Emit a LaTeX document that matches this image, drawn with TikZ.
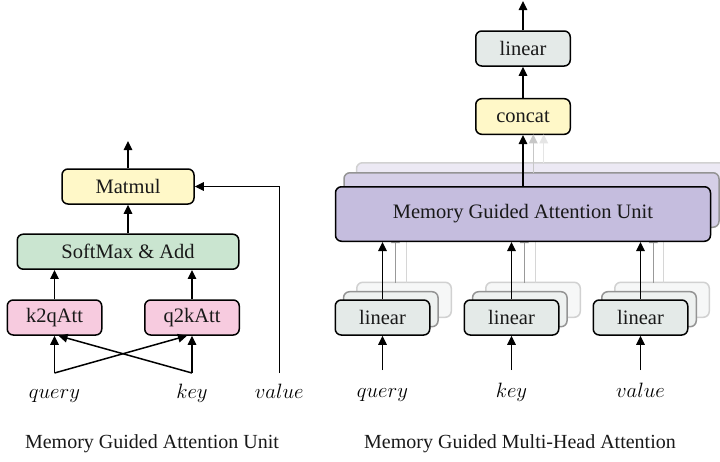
\documentclass[tikz,border=0pt]{standalone}
\usepackage{fontspec}
\setmainfont{Liberation Serif}
\usetikzlibrary{arrows.meta}
\definecolor{cyel}{HTML}{FFF8C8}
\definecolor{cgrn}{HTML}{CAE5D0}
\definecolor{cpink}{HTML}{F7CBDF}
\definecolor{clin}{HTML}{E4EAE8}
\definecolor{clin1}{HTML}{EEF1F0}
\definecolor{clin2}{HTML}{F6F7F7}
\definecolor{cpur}{HTML}{C5BDDE}
\definecolor{cpur1}{HTML}{D5CFE7}
\definecolor{cpur2}{HTML}{ECE9F4}
\begin{document}
\begin{tikzpicture}[x=1pt,y=-1pt,
  box/.style={draw=black, line width=1.5pt, rounded corners=6pt, inner sep=0pt,
    font=\fontsize{20.5}{24}\selectfont, text=black!90},
  gbox/.style={box, draw=black!42},
  ggbox/.style={box, draw=black!18},
  smallbox/.style={minimum width=94.5pt, minimum height=35pt},
  bigbox/.style={minimum width=375pt, minimum height=54.5pt},
  arr/.style={-{Triangle[length=9pt,width=8.5pt]}, line width=1.5pt},
  garr/.style={arr, draw=black!40},
  ggarr/.style={arr, draw=black!16},
  lbl/.style={anchor=base, inner sep=0pt, font=\fontsize{21}{24}\selectfont},
  captext/.style={inner sep=0pt, font=\fontsize{20}{24}\selectfont, text=black!90}
]
\useasboundingbox (0,0) rectangle (720,461);
\clip (0,0) rectangle (720,461);
\fill[white] (0,0) rectangle (720,461);

% ---------------- left: Memory Guided Attention Unit
\node[box, fill=cyel, minimum width=132pt, minimum height=35pt] (mat) at (128,186.5) {Matmul};
\node[box, fill=cgrn, minimum width=221.5pt, minimum height=35pt] (soft) at (128,251.7) {SoftMax \& Add};
\node[box, fill=cpink, smallbox] (k2q) at (54.5,317.5) {k2qAtt};
\node[box, fill=cpink, smallbox] (q2k) at (192,317.5) {q2kAtt};
\coordinate (q) at (54.5,373);
\coordinate (k) at (192,373);
\coordinate (v) at (279.3,373);
\coordinate (matout) at (128,141);
\node[lbl] (ql) at (54.5,398) {$query$};
\node[lbl] (kl) at (192,398) {$key$};
\node[lbl] (vl) at (279.3,398) {$value$};

\draw[arr] (mat.north) -- (matout);
\draw[arr] (soft.north) -- (mat.south);
\draw[arr] (k2q.north) -- (k2q.north |- soft.south);
\draw[arr] (q2k.north) -- (q2k.north |- soft.south);
\draw[arr] (q) -- (k2q.south);
\draw[arr] (k) -- (q2k.south);
\draw[arr] (q) -- ([xshift=-5pt]q2k.south);
\draw[arr] (k) -- ([xshift=4pt]k2q.south);
\draw[arr] (v) |- (mat.east);

\node[captext] (cap1) at (152,444) {Memory Guided Attention Unit};

% ---------------- right: Memory Guided Multi-Head Attention
% linear copies
\node[ggbox, fill=clin2, smallbox] (lq2) at (404,299.8) {};
\node[ggbox, fill=clin2, smallbox] (lk2) at (533,299.8) {};
\node[ggbox, fill=clin2, smallbox] (lv2) at (662,299.8) {};
\node[gbox, fill=clin1, smallbox] (lq1) at (390.8,309.2) {};
\node[gbox, fill=clin1, smallbox] (lk1) at (519.8,309.2) {};
\node[gbox, fill=clin1, smallbox] (lv1) at (649,309.2) {};
\node[box, fill=clin, smallbox] (lq) at (382.5,317.5) {linear};
\node[box, fill=clin, smallbox] (lk) at (511.5,317.5) {linear};
\node[box, fill=clin, smallbox] (lv) at (640.5,317.5) {linear};

% MGAU copies
\node[ggbox, fill=cpur2, bigbox] (mg2) at (544,190) {};
\node[gbox, fill=cpur1, bigbox] (mg1) at (531.5,200) {};

% shadow arrows below MGAU (tips hidden behind the main unit)
\coordinate (sq1a) at (395.5,282.5); \coordinate (sq1b) at (395.5,234);
\coordinate (sq2a) at (406.5,282.5); \coordinate (sq2b) at (406.5,222);
\coordinate (sk1a) at (524.3,282.5); \coordinate (sk1b) at (524.3,234);
\coordinate (sk2a) at (535.3,282.5); \coordinate (sk2b) at (535.3,222);
\coordinate (sv1a) at (653.3,282.5); \coordinate (sv1b) at (653.3,234);
\coordinate (sv2a) at (663.3,282.5); \coordinate (sv2b) at (663.3,222);
\draw[ggarr] (sq2a) -- (sq2b);
\draw[garr] (sq1a) -- (sq1b);
\draw[ggarr] (sk2a) -- (sk2b);
\draw[garr] (sk1a) -- (sk1b);
\draw[ggarr] (sv2a) -- (sv2b);
\draw[garr] (sv1a) -- (sv1b);

\node[box, fill=cpur, bigbox] (mg) at (523,214) {Memory Guided Attention Unit};

% top
\node[box, fill=cyel, smallbox, minimum height=35.6pt] (cc) at (523,116.5) {concat};
\node[box, fill=clin, smallbox] (lt) at (523,48.5) {linear};
\coordinate (topout) at (523,1);

\coordinate (st1a) at (533.3,172.7); \coordinate (st1b) at (533.3,134.3);
\coordinate (st2a) at (543.7,162.7); \coordinate (st2b) at (543.7,134.3);
\draw[ggarr, draw=black!10] (st2a) -- (st2b);
\draw[garr, draw=black!22] (st1a) -- (st1b);

\draw[arr] (mg.north) -- (cc.south);
\draw[arr] (cc.north) -- (lt.south);
\draw[arr] (lt.north) -- (topout);

% inputs
\coordinate (iq) at (382.5,370);
\coordinate (ik) at (511.5,370);
\coordinate (iv) at (640.5,370);
\draw[arr] (iq) -- (lq.south);
\draw[arr] (ik) -- (lk.south);
\draw[arr] (iv) -- (lv.south);
\draw[arr] (lq.north) -- (lq.north |- mg.south);
\draw[arr] (lk.north) -- (lk.north |- mg.south);
\draw[arr] (lv.north) -- (lv.north |- mg.south);

\node[lbl] (ql2) at (382.5,397) {$query$};
\node[lbl] (kl2) at (511.5,397) {$key$};
\node[lbl] (vl2) at (640.5,397) {$value$};

\node[captext] (cap2) at (520,444) {Memory Guided Multi-Head Attention};
\end{tikzpicture}
\end{document}
